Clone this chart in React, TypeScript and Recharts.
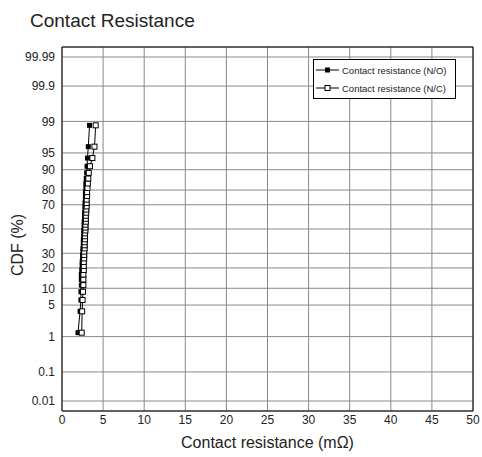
import { ScatterChart, Scatter, XAxis, YAxis, CartesianGrid, ReferenceArea, Label } from 'recharts'

// cumulative percent for each ranked sample (40 samples)
const cdfPercent = [
  1.25, 3.75, 6.25, 8.75, 11.25, 13.75, 16.25, 18.75, 21.25, 23.75,
  26.25, 28.75, 31.25, 33.75, 36.25, 38.75, 41.25, 43.75, 46.25, 48.75,
  51.25, 53.75, 56.25, 58.75, 61.25, 63.75, 66.25, 68.75, 71.25, 73.75,
  76.25, 78.75, 81.25, 83.75, 86.25, 88.75, 91.25, 93.75, 96.25, 98.75,
]

// contact resistance (mOhm), N/O contacts
const resistanceNO = [
  1.95, 2.2, 2.3, 2.3, 2.35, 2.35, 2.35, 2.4, 2.45, 2.45,
  2.5, 2.5, 2.55, 2.55, 2.6, 2.6, 2.6, 2.65, 2.65, 2.65,
  2.7, 2.7, 2.7, 2.75, 2.75, 2.75, 2.8, 2.8, 2.8, 2.85,
  2.85, 2.85, 2.9, 2.9, 2.95, 3.0, 3.05, 3.1, 3.2, 3.35,
]

// contact resistance (mOhm), N/C contacts
const resistanceNC = [
  2.4, 2.45, 2.5, 2.55, 2.6, 2.6, 2.6, 2.65, 2.65, 2.65,
  2.7, 2.7, 2.7, 2.75, 2.75, 2.75, 2.8, 2.8, 2.8, 2.85,
  2.85, 2.85, 2.9, 2.9, 2.9, 2.95, 2.95, 3.0, 3.0, 3.0,
  3.05, 3.05, 3.1, 3.15, 3.2, 3.25, 3.4, 3.7, 3.95, 4.1,
]

const yTickLabels = ['0.01', '0.1', '1', '5', '10', '20', '30', '50', '70', '80', '90', '95', '99', '99.9', '99.99']
const xTicks = [0, 5, 10, 15, 20, 25, 30, 35, 40, 45, 50]

const FONT = '"Liberation Sans", Arial, sans-serif'
const Y_LIMIT = 3.935

// inverse normal CDF (Acklam), used for the probability-paper scale
function probit(p: number): number {
  const a = [-39.69683028665376, 220.9460984245205, -275.9285104469687, 138.357751867269, -30.66479806614716, 2.506628277459239]
  const b = [-54.47609879822406, 161.5858368580409, -155.6989798598866, 66.80131188771972, -13.28068155288572]
  const c = [-0.007784894002430293, -0.3223964580411365, -2.400758277161838, -2.549732539343734, 4.374664141464968, 2.938163982698783]
  const d = [0.007784695709041462, 0.3224671290700398, 2.445134137142996, 3.754408661907416]
  const pl = 0.02425
  if (p < pl) {
    const q = Math.sqrt(-2 * Math.log(p))
    return (((((c[0] * q + c[1]) * q + c[2]) * q + c[3]) * q + c[4]) * q + c[5]) / ((((d[0] * q + d[1]) * q + d[2]) * q + d[3]) * q + 1)
  }
  if (p <= 1 - pl) {
    const q = p - 0.5
    const r = q * q
    return ((((((a[0] * r + a[1]) * r + a[2]) * r + a[3]) * r + a[4]) * r + a[5]) * q) / (((((b[0] * r + b[1]) * r + b[2]) * r + b[3]) * r + b[4]) * r + 1)
  }
  const q = Math.sqrt(-2 * Math.log(1 - p))
  return -(((((c[0] * q + c[1]) * q + c[2]) * q + c[3]) * q + c[4]) * q + c[5]) / ((((d[0] * q + d[1]) * q + d[2]) * q + d[3]) * q + 1)
}

const yTicks = yTickLabels.map((t) => probit(parseFloat(t) / 100))
const dataNO = resistanceNO.map((x, i) => ({ x, z: probit(cdfPercent[i] / 100) }))
const dataNC = resistanceNC.map((x, i) => ({ x, z: probit(cdfPercent[i] / 100) }))

const FilledSquare = (props: any) => {
  const { cx, cy } = props
  if (cx == null || cy == null) return null
  return <rect x={cx - 2.5} y={cy - 2.5} width={5} height={5} fill="#000" />
}

const OpenSquare = (props: any) => {
  const { cx, cy } = props
  if (cx == null || cy == null) return null
  return <rect x={cx - 2.5} y={cy - 2.5} width={5} height={5} fill="#fff" stroke="#000" strokeWidth={1} />
}

const YTitle = () => (
  <text x={17} y={245} transform="rotate(-90 17 245)" textAnchor="middle" dominantBaseline="central" fontSize={16} fill="#222" fontFamily={FONT}>
    CDF (%)
  </text>
)

function LegendRow({ filled, label }: { filled: boolean; label: string }) {
  return (
    <div style={{ display: 'flex', alignItems: 'center', height: 18 }}>
      <svg width={26} height={10} style={{ marginLeft: 1 }}>
        <line x1={1} y1={5} x2={24} y2={5} stroke="#000" strokeWidth={1} />
        <rect x={10} y={2.5} width={5} height={5} fill={filled ? '#000' : '#fff'} stroke="#000" strokeWidth={filled ? 0 : 1} />
      </svg>
      <span style={{ fontSize: 9.5, color: '#222', marginLeft: 1, whiteSpace: 'nowrap' }}>{label}</span>
    </div>
  )
}

export default function App() {
  return (
    <div style={{ position: 'absolute', left: 0, top: 0, width: 482, height: 457, fontFamily: FONT, background: '#fff' }}>
      <div style={{ position: 'absolute', left: 30, top: 11, fontSize: 19, lineHeight: '19px', color: '#222' }}>Contact Resistance</div>
      <ScatterChart width={482} height={457} margin={{ top: 47, right: 9, bottom: 0, left: 0 }}>
        <CartesianGrid stroke="#888" strokeWidth={1} />
        <XAxis
          type="number"
          dataKey="x"
          domain={[0, 50]}
          ticks={xTicks}
          interval={0}
          height={46}
          axisLine={false}
          tickLine={false}
          tickSize={4}
          tickMargin={0}
          tick={{ fontSize: 12, fill: '#222', fontFamily: FONT }}
        >
          <Label value="Contact resistance (mΩ)" position="insideBottom" offset={9} fontSize={16} fill="#222" fontFamily={FONT} />
        </XAxis>
        <YAxis
          type="number"
          dataKey="z"
          domain={[-Y_LIMIT, Y_LIMIT]}
          ticks={yTicks}
          interval={0}
          width={62}
          axisLine={false}
          tickLine={false}
          tickSize={4}
          tickMargin={3}
          tickFormatter={(_v: number, i: number) => yTickLabels[i]}
          tick={{ fontSize: 12, fill: '#222', fontFamily: FONT }}
        >
          <Label content={<YTitle />} />
        </YAxis>
        <ReferenceArea x1={0} x2={50} y1={-Y_LIMIT} y2={Y_LIMIT} fill="none" fillOpacity={0} stroke="#000" strokeWidth={1} />
        <Scatter name="Contact resistance (N/O)" data={dataNO} line={{ stroke: '#000', strokeWidth: 1 }} shape={FilledSquare} isAnimationActive={false} />
        <Scatter name="Contact resistance (N/C)" data={dataNC} line={{ stroke: '#000', strokeWidth: 1 }} shape={OpenSquare} isAnimationActive={false} />
      </ScatterChart>
      <div
        style={{
          position: 'absolute',
          left: 313,
          top: 59,
          width: 141,
          height: 37,
          border: '1px solid #000',
          background: '#fff',
          paddingTop: 1,
          boxSizing: 'content-box',
        }}
      >
        <LegendRow filled label="Contact resistance (N/O)" />
        <LegendRow filled={false} label="Contact resistance (N/C)" />
      </div>
    </div>
  )
}
